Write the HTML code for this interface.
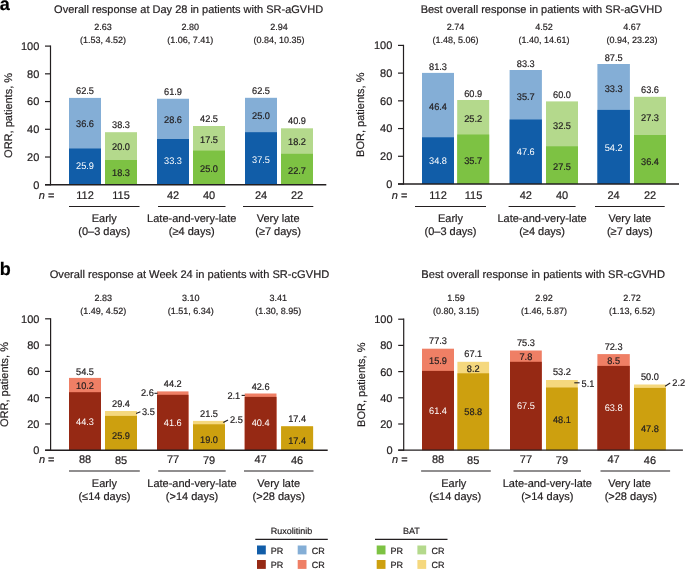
<!DOCTYPE html>
<html><head><meta charset="utf-8"><style>
html,body{margin:0;padding:0;background:#fff;}
body{width:685px;height:569px;overflow:hidden;}
svg{display:block;font-family:"Liberation Sans",sans-serif;text-rendering:geometricPrecision;font-size:11px;text-anchor:middle;}
text{fill:#231F20;stroke:#231F20;stroke-width:0.2px;}
text.w{fill:#fff;stroke:none;}
text.k{fill:#000;stroke:#000;font-weight:bold;}
</style></head><body>
<div style="will-change:transform;filter:blur(0.25px)"><svg width="685" height="569" viewBox="0 0 685 569">
<rect width="685" height="569" fill="#fff"/>
<text x="188.60" y="13.10">Overall response at Day 28 in patients with SR-aGVHD</text>
<text x="103.00" y="29.50" font-size="9">2.63</text>
<text x="103.00" y="42.90" font-size="9">(1.53, 4.52)</text>
<text x="190.30" y="29.50" font-size="9">2.80</text>
<text x="190.30" y="42.90" font-size="9">(1.06, 7.41)</text>
<text x="279.00" y="29.50" font-size="9">2.94</text>
<text x="279.00" y="42.90" font-size="9">(0.84, 10.35)</text>
<rect x="69.00" y="97.90" width="32.00" height="86.85" fill="#84AED6"/>
<rect x="69.00" y="148.50" width="32.00" height="36.25" fill="#115DA8"/>
<text transform="translate(85.00,93.65) scale(0.960,1)" font-size="9.6">62.5</text>
<text transform="translate(85.00,168.75) scale(0.960,1)" font-size="9.6" class="w">25.9</text>
<text transform="translate(85.00,127.35) scale(0.960,1)" font-size="9.6">36.6</text>
<rect x="105.00" y="132.20" width="32.00" height="52.55" fill="#B4D98C"/>
<rect x="105.00" y="160.00" width="32.00" height="24.75" fill="#7DC243"/>
<text transform="translate(121.00,128.25) scale(0.960,1)" font-size="9.6">38.3</text>
<text transform="translate(121.00,175.85) scale(0.960,1)" font-size="9.6">18.3</text>
<text transform="translate(121.00,149.55) scale(0.960,1)" font-size="9.6">20.0</text>
<rect x="157.00" y="98.75" width="32.00" height="86.00" fill="#84AED6"/>
<rect x="157.00" y="139.00" width="32.00" height="45.75" fill="#115DA8"/>
<text transform="translate(173.00,95.25) scale(0.960,1)" font-size="9.6">61.9</text>
<text transform="translate(173.00,164.45) scale(0.960,1)" font-size="9.6" class="w">33.3</text>
<text transform="translate(173.00,123.25) scale(0.960,1)" font-size="9.6">28.6</text>
<rect x="193.00" y="126.00" width="32.00" height="58.75" fill="#B4D98C"/>
<rect x="193.00" y="150.60" width="32.00" height="34.15" fill="#7DC243"/>
<text transform="translate(209.00,122.25) scale(0.960,1)" font-size="9.6">42.5</text>
<text transform="translate(209.00,172.15) scale(0.960,1)" font-size="9.6">25.0</text>
<text transform="translate(209.00,143.15) scale(0.960,1)" font-size="9.6">17.5</text>
<rect x="245.00" y="97.80" width="32.00" height="86.95" fill="#84AED6"/>
<rect x="245.00" y="132.20" width="32.00" height="52.55" fill="#115DA8"/>
<text transform="translate(261.00,94.25) scale(0.960,1)" font-size="9.6">62.5</text>
<text transform="translate(261.00,162.85) scale(0.960,1)" font-size="9.6" class="w">37.5</text>
<text transform="translate(261.00,119.35) scale(0.960,1)" font-size="9.6">25.0</text>
<rect x="281.00" y="128.30" width="32.00" height="56.45" fill="#B4D98C"/>
<rect x="281.00" y="153.80" width="32.00" height="30.95" fill="#7DC243"/>
<text transform="translate(297.00,124.25) scale(0.960,1)" font-size="9.6">40.9</text>
<text transform="translate(297.00,173.85) scale(0.960,1)" font-size="9.6">22.7</text>
<text transform="translate(297.00,145.05) scale(0.960,1)" font-size="9.6">18.2</text>
<text x="85.00" y="199.10">112</text>
<text x="121.00" y="199.30">115</text>
<text x="173.00" y="199.10">42</text>
<text x="209.00" y="199.30">40</text>
<text x="261.00" y="199.10">24</text>
<text x="297.00" y="199.30">22</text>
<line x1="69.00" y1="206.50" x2="139.50" y2="206.50" stroke="#231F20" stroke-width="1.2"/>
<text x="104.25" y="221.80">Early</text>
<text x="104.25" y="234.80">(0–3 days)</text>
<line x1="158.00" y1="206.50" x2="225.50" y2="206.50" stroke="#231F20" stroke-width="1.2"/>
<text x="191.75" y="221.80">Late-and-very-late</text>
<text x="191.75" y="234.80">(≥4 days)</text>
<line x1="243.00" y1="206.50" x2="313.30" y2="206.50" stroke="#231F20" stroke-width="1.2"/>
<text x="278.15" y="221.80">Very late</text>
<text x="278.15" y="234.80">(≥7 days)</text>
<text x="38.80" y="198.60" text-anchor="start"><tspan font-style="italic">n</tspan> =</text>
<text x="541.40" y="13.10">Best overall response in patients with SR-aGVHD</text>
<text x="455.60" y="29.50" font-size="9">2.74</text>
<text x="455.60" y="42.90" font-size="9">(1.48, 5.06)</text>
<text x="544.00" y="29.50" font-size="9">4.52</text>
<text x="544.00" y="42.90" font-size="9">(1.40, 14.61)</text>
<text x="632.00" y="29.50" font-size="9">4.67</text>
<text x="632.00" y="42.90" font-size="9">(0.94, 23.23)</text>
<rect x="422.00" y="72.90" width="32.00" height="111.10" fill="#84AED6"/>
<rect x="422.00" y="137.30" width="32.00" height="46.70" fill="#115DA8"/>
<text transform="translate(438.00,69.65) scale(0.960,1)" font-size="9.6">81.3</text>
<text transform="translate(438.00,164.05) scale(0.960,1)" font-size="9.6" class="w">34.8</text>
<text transform="translate(438.00,110.05) scale(0.960,1)" font-size="9.6">46.4</text>
<rect x="457.20" y="100.00" width="32.00" height="84.00" fill="#B4D98C"/>
<rect x="457.20" y="134.50" width="32.00" height="49.50" fill="#7DC243"/>
<text transform="translate(473.20,96.55) scale(0.960,1)" font-size="9.6">60.9</text>
<text transform="translate(473.20,164.05) scale(0.960,1)" font-size="9.6">35.7</text>
<text transform="translate(473.20,122.25) scale(0.960,1)" font-size="9.6">25.2</text>
<rect x="509.60" y="70.00" width="32.30" height="114.00" fill="#84AED6"/>
<rect x="509.60" y="119.50" width="32.30" height="64.50" fill="#115DA8"/>
<text transform="translate(525.75,67.35) scale(0.960,1)" font-size="9.6">83.3</text>
<text transform="translate(525.75,155.35) scale(0.960,1)" font-size="9.6" class="w">47.6</text>
<text transform="translate(525.75,100.45) scale(0.960,1)" font-size="9.6">35.7</text>
<rect x="546.00" y="101.40" width="32.00" height="82.60" fill="#B4D98C"/>
<rect x="546.00" y="146.30" width="32.00" height="37.70" fill="#7DC243"/>
<text transform="translate(562.00,98.15) scale(0.960,1)" font-size="9.6">60.0</text>
<text transform="translate(562.00,170.25) scale(0.960,1)" font-size="9.6">27.5</text>
<text transform="translate(562.00,129.05) scale(0.960,1)" font-size="9.6">32.5</text>
<rect x="597.40" y="64.00" width="32.50" height="120.00" fill="#84AED6"/>
<rect x="597.40" y="109.90" width="32.50" height="74.10" fill="#115DA8"/>
<text transform="translate(613.65,60.95) scale(0.960,1)" font-size="9.6">87.5</text>
<text transform="translate(613.65,150.75) scale(0.960,1)" font-size="9.6" class="w">54.2</text>
<text transform="translate(613.65,92.05) scale(0.960,1)" font-size="9.6">33.3</text>
<rect x="634.00" y="96.80" width="32.00" height="87.20" fill="#B4D98C"/>
<rect x="634.00" y="135.00" width="32.00" height="49.00" fill="#7DC243"/>
<text transform="translate(650.00,92.95) scale(0.960,1)" font-size="9.6">63.6</text>
<text transform="translate(650.00,164.55) scale(0.960,1)" font-size="9.6">36.4</text>
<text transform="translate(650.00,120.65) scale(0.960,1)" font-size="9.6">27.3</text>
<text x="438.00" y="199.10">112</text>
<text x="473.50" y="199.30">115</text>
<text x="525.80" y="199.10">42</text>
<text x="562.00" y="199.30">40</text>
<text x="613.60" y="199.10">24</text>
<text x="650.00" y="199.30">22</text>
<line x1="415.00" y1="206.50" x2="486.00" y2="206.50" stroke="#231F20" stroke-width="1.2"/>
<text x="450.50" y="221.80">Early</text>
<text x="450.50" y="234.80">(0–3 days)</text>
<line x1="508.60" y1="206.50" x2="575.60" y2="206.50" stroke="#231F20" stroke-width="1.2"/>
<text x="542.10" y="221.80">Late-and-very-late</text>
<text x="542.10" y="234.80">(≥4 days)</text>
<line x1="595.00" y1="206.50" x2="664.70" y2="206.50" stroke="#231F20" stroke-width="1.2"/>
<text x="629.85" y="221.80">Very late</text>
<text x="629.85" y="234.80">(≥7 days)</text>
<text x="391.80" y="198.60" text-anchor="start"><tspan font-style="italic">n</tspan> =</text>
<text x="189.45" y="277.60" font-size="11.11">Overall response at Week 24 in patients with SR-cGVHD</text>
<text x="103.30" y="300.80" font-size="9">2.83</text>
<text x="103.30" y="314.00" font-size="9">(1.49, 4.52)</text>
<text x="190.80" y="300.80" font-size="9">3.10</text>
<text x="190.80" y="314.00" font-size="9">(1.51, 6.34)</text>
<text x="278.20" y="300.80" font-size="9">3.41</text>
<text x="278.20" y="314.00" font-size="9">(1.30, 8.95)</text>
<rect x="69.00" y="377.90" width="32.00" height="72.35" fill="#EF7F65"/>
<rect x="69.00" y="392.20" width="32.00" height="58.05" fill="#962914"/>
<text transform="translate(85.00,374.55) scale(0.960,1)" font-size="9.6">54.5</text>
<text transform="translate(85.00,424.75) scale(0.960,1)" font-size="9.6" class="w">44.3</text>
<text transform="translate(85.00,388.95) scale(0.960,1)" font-size="9.6">10.2</text>
<rect x="105.00" y="411.00" width="32.00" height="39.25" fill="#F5D87E"/>
<rect x="105.00" y="415.90" width="32.00" height="34.35" fill="#CDA00F"/>
<text transform="translate(121.00,407.05) scale(0.960,1)" font-size="9.6">29.4</text>
<text transform="translate(121.00,438.75) scale(0.960,1)" font-size="9.6">25.9</text>
<rect x="157.00" y="391.40" width="31.50" height="58.85" fill="#EF7F65"/>
<rect x="157.00" y="394.80" width="31.50" height="55.45" fill="#962914"/>
<text transform="translate(172.75,387.15) scale(0.960,1)" font-size="9.6">44.2</text>
<text transform="translate(172.75,425.95) scale(0.960,1)" font-size="9.6" class="w">41.6</text>
<rect x="193.00" y="420.90" width="32.00" height="29.35" fill="#F5D87E"/>
<rect x="193.00" y="424.30" width="32.00" height="25.95" fill="#CDA00F"/>
<text transform="translate(209.00,416.75) scale(0.960,1)" font-size="9.6">21.5</text>
<text transform="translate(209.00,442.85) scale(0.960,1)" font-size="9.6">19.0</text>
<rect x="244.70" y="393.50" width="31.80" height="56.75" fill="#EF7F65"/>
<rect x="244.70" y="396.90" width="31.80" height="53.35" fill="#962914"/>
<text transform="translate(260.60,389.85) scale(0.960,1)" font-size="9.6">42.6</text>
<text transform="translate(260.60,425.95) scale(0.960,1)" font-size="9.6" class="w">40.4</text>
<rect x="281.10" y="426.30" width="32.00" height="23.95" fill="#F5D87E"/>
<rect x="281.10" y="426.30" width="32.00" height="23.95" fill="#CDA00F"/>
<text transform="translate(297.10,421.95) scale(0.960,1)" font-size="9.6">17.4</text>
<text transform="translate(297.10,444.05) scale(0.960,1)" font-size="9.6">17.4</text>
<line x1="136.10" y1="413.40" x2="140.40" y2="411.80" stroke="#231F20" stroke-width="1.1"/>
<text transform="translate(142.00,415.05) scale(0.960,1)" font-size="9.6" text-anchor="start">3.5</text>
<line x1="154.40" y1="393.30" x2="157.60" y2="393.30" stroke="#231F20" stroke-width="1.1"/>
<text transform="translate(153.80,395.85) scale(0.960,1)" font-size="9.6" text-anchor="end">2.6</text>
<line x1="223.30" y1="422.60" x2="228.00" y2="419.90" stroke="#231F20" stroke-width="1.1"/>
<text transform="translate(230.00,423.05) scale(0.960,1)" font-size="9.6" text-anchor="start">2.5</text>
<line x1="241.60" y1="395.40" x2="244.90" y2="395.40" stroke="#231F20" stroke-width="1.1"/>
<text transform="translate(240.20,398.65) scale(0.960,1)" font-size="9.6" text-anchor="end">2.1</text>
<text x="85.00" y="463.40">88</text>
<text x="121.00" y="464.10">85</text>
<text x="173.00" y="463.40">77</text>
<text x="209.00" y="464.10">79</text>
<text x="260.60" y="463.40">47</text>
<text x="297.10" y="464.10">46</text>
<line x1="69.00" y1="471.00" x2="139.80" y2="471.00" stroke="#231F20" stroke-width="1.2"/>
<text x="104.40" y="486.70">Early</text>
<text x="104.40" y="499.70">(≤14 days)</text>
<line x1="158.20" y1="471.00" x2="225.70" y2="471.00" stroke="#231F20" stroke-width="1.2"/>
<text x="191.95" y="486.70">Late-and-very-late</text>
<text x="191.95" y="499.70">(&gt;14 days)</text>
<line x1="244.00" y1="471.00" x2="313.50" y2="471.00" stroke="#231F20" stroke-width="1.2"/>
<text x="278.75" y="486.70">Very late</text>
<text x="278.75" y="499.70">(&gt;28 days)</text>
<text x="38.90" y="463.40" text-anchor="start"><tspan font-style="italic">n</tspan> =</text>
<text x="543.15" y="277.60" font-size="11.13">Best overall response in patients with SR-cGVHD</text>
<text x="456.00" y="300.80" font-size="9">1.59</text>
<text x="456.00" y="314.00" font-size="9">(0.80, 3.15)</text>
<text x="544.00" y="300.80" font-size="9">2.92</text>
<text x="544.00" y="314.00" font-size="9">(1.46, 5.87)</text>
<text x="632.00" y="300.80" font-size="9">2.72</text>
<text x="632.00" y="314.00" font-size="9">(1.13, 6.52)</text>
<rect x="422.00" y="348.70" width="32.00" height="101.50" fill="#EF7F65"/>
<rect x="422.00" y="370.90" width="32.00" height="79.30" fill="#962914"/>
<text transform="translate(438.00,343.55) scale(0.960,1)" font-size="9.6">77.3</text>
<text transform="translate(438.00,413.55) scale(0.960,1)" font-size="9.6" class="w">61.4</text>
<text transform="translate(438.00,363.55) scale(0.960,1)" font-size="9.6">15.9</text>
<rect x="457.40" y="361.80" width="31.70" height="88.40" fill="#F5D87E"/>
<rect x="457.40" y="373.30" width="31.70" height="76.90" fill="#CDA00F"/>
<text transform="translate(473.25,357.15) scale(0.960,1)" font-size="9.6">67.1</text>
<text transform="translate(473.25,414.95) scale(0.960,1)" font-size="9.6">58.8</text>
<text transform="translate(473.25,371.75) scale(0.960,1)" font-size="9.6">8.2</text>
<rect x="510.00" y="350.50" width="31.80" height="99.70" fill="#EF7F65"/>
<rect x="510.00" y="361.80" width="31.80" height="88.40" fill="#962914"/>
<text transform="translate(525.90,346.25) scale(0.960,1)" font-size="9.6">75.3</text>
<text transform="translate(525.90,409.45) scale(0.960,1)" font-size="9.6" class="w">67.5</text>
<text transform="translate(525.90,359.95) scale(0.960,1)" font-size="9.6">7.8</text>
<rect x="546.00" y="380.00" width="31.80" height="70.20" fill="#F5D87E"/>
<rect x="546.00" y="387.50" width="31.80" height="62.70" fill="#CDA00F"/>
<text transform="translate(561.90,374.55) scale(0.960,1)" font-size="9.6">53.2</text>
<text transform="translate(561.90,423.05) scale(0.960,1)" font-size="9.6">48.1</text>
<rect x="597.40" y="354.10" width="32.40" height="96.10" fill="#EF7F65"/>
<rect x="597.40" y="365.90" width="32.40" height="84.30" fill="#962914"/>
<text transform="translate(613.60,349.85) scale(0.960,1)" font-size="9.6">72.3</text>
<text transform="translate(613.60,411.45) scale(0.960,1)" font-size="9.6" class="w">63.8</text>
<text transform="translate(613.60,364.05) scale(0.960,1)" font-size="9.6">8.5</text>
<rect x="634.00" y="384.50" width="31.80" height="65.70" fill="#F5D87E"/>
<rect x="634.00" y="387.90" width="31.80" height="62.30" fill="#CDA00F"/>
<text transform="translate(649.90,379.75) scale(0.960,1)" font-size="9.6">50.0</text>
<text transform="translate(649.90,431.75) scale(0.960,1)" font-size="9.6">47.8</text>
<line x1="574.30" y1="382.80" x2="579.60" y2="382.80" stroke="#231F20" stroke-width="1.1"/>
<text transform="translate(581.60,386.65) scale(0.960,1)" font-size="9.6" text-anchor="start">5.1</text>
<line x1="665.10" y1="386.20" x2="670.20" y2="383.00" stroke="#231F20" stroke-width="1.1"/>
<text transform="translate(672.30,386.15) scale(0.960,1)" font-size="9.6" text-anchor="start">2.2</text>
<text x="438.00" y="463.40">88</text>
<text x="473.20" y="464.10">85</text>
<text x="525.90" y="463.40">77</text>
<text x="561.90" y="464.10">79</text>
<text x="613.60" y="463.40">47</text>
<text x="649.90" y="464.10">46</text>
<line x1="421.10" y1="471.00" x2="490.80" y2="471.00" stroke="#231F20" stroke-width="1.2"/>
<text x="453.80" y="486.70">Early</text>
<text x="455.30" y="499.70">(≤14 days)</text>
<line x1="513.50" y1="471.00" x2="581.00" y2="471.00" stroke="#231F20" stroke-width="1.2"/>
<text x="547.30" y="486.70">Late-and-very-late</text>
<text x="547.30" y="499.70">(&gt;14 days)</text>
<line x1="600.50" y1="471.00" x2="670.10" y2="471.00" stroke="#231F20" stroke-width="1.2"/>
<text x="629.60" y="486.70">Very late</text>
<text x="630.80" y="499.70">(&gt;28 days)</text>
<text x="392.00" y="463.40" text-anchor="start"><tspan font-style="italic">n</tspan> =</text>
<text transform="translate(12.00,115.42) rotate(-90)">ORR, patients, %</text>
<line x1="45.00" y1="184.75" x2="50.50" y2="184.75" stroke="#231F20" stroke-width="1.2"/>
<text x="39.30" y="188.65" text-anchor="end">0</text>
<line x1="45.00" y1="157.02" x2="50.50" y2="157.02" stroke="#231F20" stroke-width="1.2"/>
<text x="39.30" y="160.92" text-anchor="end">20</text>
<line x1="45.00" y1="129.29" x2="50.50" y2="129.29" stroke="#231F20" stroke-width="1.2"/>
<text x="39.30" y="133.19" text-anchor="end">40</text>
<line x1="45.00" y1="101.56" x2="50.50" y2="101.56" stroke="#231F20" stroke-width="1.2"/>
<text x="39.30" y="105.46" text-anchor="end">60</text>
<line x1="45.00" y1="73.83" x2="50.50" y2="73.83" stroke="#231F20" stroke-width="1.2"/>
<text x="39.30" y="77.73" text-anchor="end">80</text>
<line x1="45.00" y1="46.10" x2="50.50" y2="46.10" stroke="#231F20" stroke-width="1.2"/>
<text x="39.30" y="50.00" text-anchor="end">100</text>
<line x1="50.50" y1="45.50" x2="50.50" y2="185.35" stroke="#231F20" stroke-width="1.2"/>
<line x1="45.00" y1="184.75" x2="326.30" y2="184.75" stroke="#231F20" stroke-width="1.3"/>
<text transform="translate(363.60,114.70) rotate(-90)">BOR, patients, %</text>
<line x1="398.00" y1="184.00" x2="403.50" y2="184.00" stroke="#231F20" stroke-width="1.2"/>
<text x="392.30" y="187.90" text-anchor="end">0</text>
<line x1="398.00" y1="156.28" x2="403.50" y2="156.28" stroke="#231F20" stroke-width="1.2"/>
<text x="392.30" y="160.18" text-anchor="end">20</text>
<line x1="398.00" y1="128.56" x2="403.50" y2="128.56" stroke="#231F20" stroke-width="1.2"/>
<text x="392.30" y="132.46" text-anchor="end">40</text>
<line x1="398.00" y1="100.84" x2="403.50" y2="100.84" stroke="#231F20" stroke-width="1.2"/>
<text x="392.30" y="104.74" text-anchor="end">60</text>
<line x1="398.00" y1="73.12" x2="403.50" y2="73.12" stroke="#231F20" stroke-width="1.2"/>
<text x="392.30" y="77.02" text-anchor="end">80</text>
<line x1="398.00" y1="45.40" x2="403.50" y2="45.40" stroke="#231F20" stroke-width="1.2"/>
<text x="392.30" y="49.30" text-anchor="end">100</text>
<line x1="403.50" y1="44.80" x2="403.50" y2="184.60" stroke="#231F20" stroke-width="1.2"/>
<line x1="398.00" y1="184.00" x2="679.00" y2="184.00" stroke="#231F20" stroke-width="1.3"/>
<text transform="translate(8.40,384.52) rotate(-90)">ORR, patients, %</text>
<line x1="45.10" y1="450.25" x2="50.60" y2="450.25" stroke="#231F20" stroke-width="1.2"/>
<text x="39.40" y="454.15" text-anchor="end">0</text>
<line x1="45.10" y1="423.96" x2="50.60" y2="423.96" stroke="#231F20" stroke-width="1.2"/>
<text x="39.40" y="427.86" text-anchor="end">20</text>
<line x1="45.10" y1="397.67" x2="50.60" y2="397.67" stroke="#231F20" stroke-width="1.2"/>
<text x="39.40" y="401.57" text-anchor="end">40</text>
<line x1="45.10" y1="371.38" x2="50.60" y2="371.38" stroke="#231F20" stroke-width="1.2"/>
<text x="39.40" y="375.28" text-anchor="end">60</text>
<line x1="45.10" y1="345.09" x2="50.60" y2="345.09" stroke="#231F20" stroke-width="1.2"/>
<text x="39.40" y="348.99" text-anchor="end">80</text>
<line x1="45.10" y1="318.80" x2="50.60" y2="318.80" stroke="#231F20" stroke-width="1.2"/>
<text x="39.40" y="322.70" text-anchor="end">100</text>
<line x1="50.60" y1="318.20" x2="50.60" y2="450.85" stroke="#231F20" stroke-width="1.2"/>
<line x1="45.10" y1="450.25" x2="327.70" y2="450.25" stroke="#231F20" stroke-width="1.3"/>
<text transform="translate(364.60,384.70) rotate(-90)">BOR, patients, %</text>
<line x1="398.20" y1="450.20" x2="403.70" y2="450.20" stroke="#231F20" stroke-width="1.2"/>
<text x="392.50" y="454.10" text-anchor="end">0</text>
<line x1="398.20" y1="424.00" x2="403.70" y2="424.00" stroke="#231F20" stroke-width="1.2"/>
<text x="392.50" y="427.90" text-anchor="end">20</text>
<line x1="398.20" y1="397.80" x2="403.70" y2="397.80" stroke="#231F20" stroke-width="1.2"/>
<text x="392.50" y="401.70" text-anchor="end">40</text>
<line x1="398.20" y1="371.60" x2="403.70" y2="371.60" stroke="#231F20" stroke-width="1.2"/>
<text x="392.50" y="375.50" text-anchor="end">60</text>
<line x1="398.20" y1="345.40" x2="403.70" y2="345.40" stroke="#231F20" stroke-width="1.2"/>
<text x="392.50" y="349.30" text-anchor="end">80</text>
<line x1="398.20" y1="319.20" x2="403.70" y2="319.20" stroke="#231F20" stroke-width="1.2"/>
<text x="392.50" y="323.10" text-anchor="end">100</text>
<line x1="403.70" y1="318.60" x2="403.70" y2="450.80" stroke="#231F20" stroke-width="1.2"/>
<line x1="398.20" y1="450.20" x2="682.90" y2="450.20" stroke="#231F20" stroke-width="1.3"/>
<text x="-0.30" y="9.80" font-size="18" text-anchor="start" class="k">a</text>
<text x="-0.20" y="274.80" font-size="18" text-anchor="start" class="k">b</text>
<text x="291.60" y="534.40" font-size="9">Ruxolitinib</text>
<line x1="255.30" y1="539.30" x2="327.80" y2="539.30" stroke="#231F20" stroke-width="1.2"/>
<rect x="257.00" y="545.50" width="8.80" height="8.90" fill="#115DA8"/>
<text x="270.80" y="553.50" font-size="9" text-anchor="start">PR</text>
<rect x="297.70" y="545.50" width="8.80" height="8.90" fill="#84AED6"/>
<text x="311.80" y="553.50" font-size="9" text-anchor="start">CR</text>
<rect x="257.00" y="560.00" width="8.80" height="8.90" fill="#962914"/>
<text x="270.80" y="568.00" font-size="9" text-anchor="start">PR</text>
<rect x="297.70" y="560.00" width="8.80" height="8.90" fill="#EF7F65"/>
<text x="311.80" y="568.00" font-size="9" text-anchor="start">CR</text>
<text x="411.30" y="534.40" font-size="9">BAT</text>
<line x1="375.00" y1="539.30" x2="447.50" y2="539.30" stroke="#231F20" stroke-width="1.2"/>
<rect x="376.70" y="545.50" width="8.80" height="8.90" fill="#7DC243"/>
<text x="390.50" y="553.50" font-size="9" text-anchor="start">PR</text>
<rect x="417.40" y="545.50" width="8.80" height="8.90" fill="#B4D98C"/>
<text x="431.50" y="553.50" font-size="9" text-anchor="start">CR</text>
<rect x="376.70" y="560.00" width="8.80" height="8.90" fill="#CDA00F"/>
<text x="390.50" y="568.00" font-size="9" text-anchor="start">PR</text>
<rect x="417.40" y="560.00" width="8.80" height="8.90" fill="#F5D87E"/>
<text x="431.50" y="568.00" font-size="9" text-anchor="start">CR</text>
</svg></div>
</body></html>
